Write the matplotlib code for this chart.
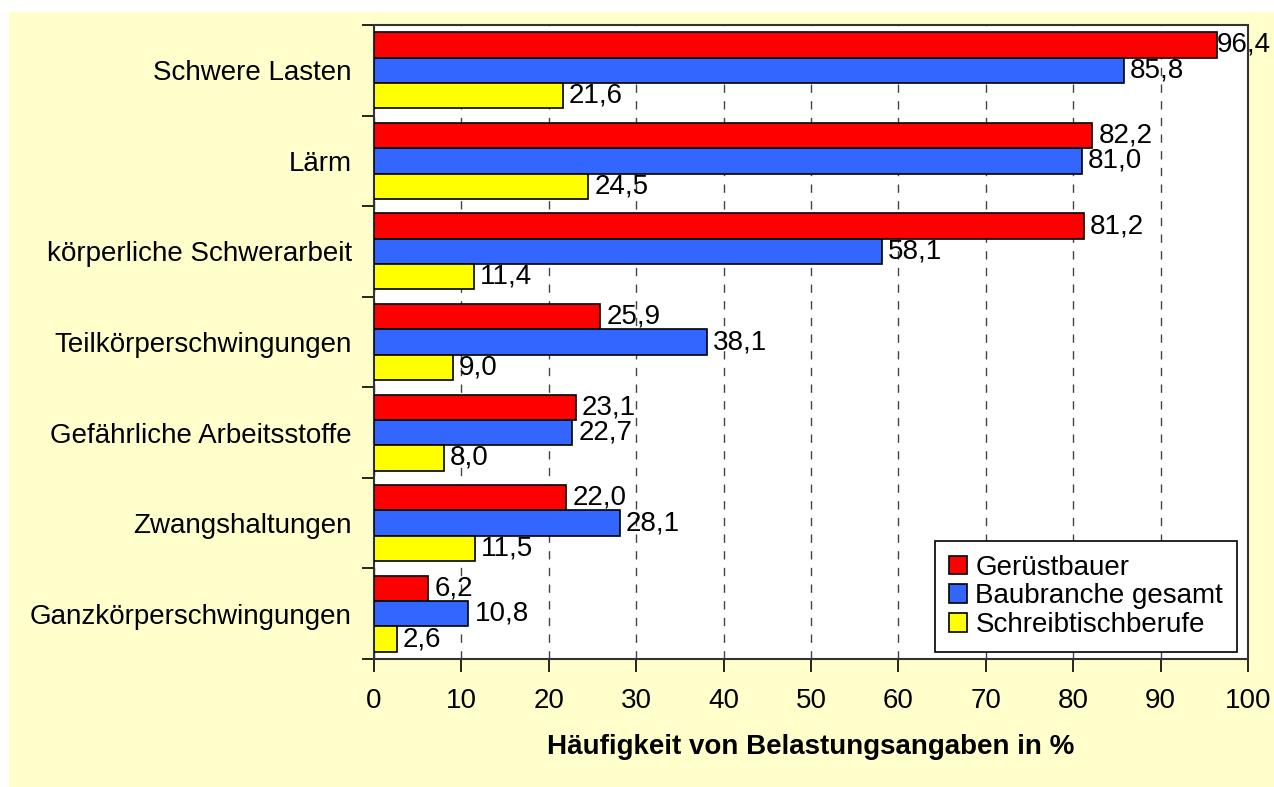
import numpy as np
import matplotlib.pyplot as plt
from matplotlib.patches import Rectangle

plt.rcParams['font.family'] = ['Liberation Sans', 'DejaVu Sans']

categories = ["Schwere Lasten", "Lärm", "körperliche Schwerarbeit",
              "Teilkörperschwingungen", "Gefährliche Arbeitsstoffe",
              "Zwangshaltungen", "Ganzkörperschwingungen"]
geruestbauer = [96.4, 82.2, 81.2, 25.9, 23.1, 22.0, 6.2]
baubranche = [85.8, 81.0, 58.1, 38.1, 22.7, 28.1, 10.8]
schreibtisch = [21.6, 24.5, 11.4, 9.0, 8.0, 11.5, 2.6]
series_names = ["Gerüstbauer", "Baubranche gesamt", "Schreibtischberufe"]
colors = ["#FF0000", "#3366FF", "#FFFF00"]

fig = plt.figure(figsize=(12.74, 7.87), dpi=100)
fig.patches.append(Rectangle((9 / 1274, 0), 1 - 9 / 1274, 1 - 12 / 787,
                             transform=fig.transFigure, facecolor="#FFFFCC",
                             edgecolor="none", zorder=-10))
ax = fig.add_axes([374 / 1274, 1 - 659 / 787, (1248 - 374) / 1274, (659 - 25) / 787])
ax.set_facecolor("white")

fs = 20
y = np.arange(len(categories))
h = 0.28
for i, (vals, name, c) in enumerate(zip([geruestbauer, baubranche, schreibtisch], series_names, colors)):
    pos = y + (i - 1) * h
    ax.barh(pos, vals, height=h, color=c, edgecolor="black", linewidth=1.2, label=name, zorder=3)
    for p, v in zip(pos, vals):
        off = 0.7 if v < 95 else 0.05  # label squeezed near the right edge
        ax.text(v + off, p, f"{v:.1f}".replace(".", ","), va="center", ha="left",
                fontsize=fs, clip_on=False, zorder=4)

ax.set_xlim(0, 100)
ax.set_ylim(len(categories) - 0.5, -0.5)
ax.set_xticks(np.arange(0, 101, 10))
ax.set_yticks(np.arange(-0.5, len(categories), 1))
ax.set_yticklabels([])
ax.set_yticks(y, minor=True)
ax.set_yticklabels(categories, minor=True, fontsize=fs)
ax.tick_params(axis="y", which="minor", length=0, pad=16)
ax.tick_params(axis="y", which="major", length=9, width=1.2, direction="out")
ax.tick_params(axis="x", length=9, width=1.2, labelsize=fs, pad=12)
ax.grid(axis="x", linestyle=(0, (6, 6)), color="#444444", linewidth=1, zorder=1)
for s in ax.spines.values():
    s.set_linewidth(1.5)
    s.set_color("#333333")

ax.set_xlabel("Häufigkeit von Belastungsangaben in %", fontsize=fs, fontweight="bold", labelpad=14)
leg = ax.legend(loc="lower right", fontsize=fs, fancybox=False, edgecolor="black",
                handlelength=0.65, handleheight=0.65, handletextpad=0.3,
                borderpad=0.5, labelspacing=0.1, framealpha=1, borderaxespad=0,
                bbox_to_anchor=(0.9874, 0.011))
leg.get_frame().set_linewidth(1.2)
leg.set_zorder(5)

fig.savefig("out.png", dpi=100, facecolor="white")
